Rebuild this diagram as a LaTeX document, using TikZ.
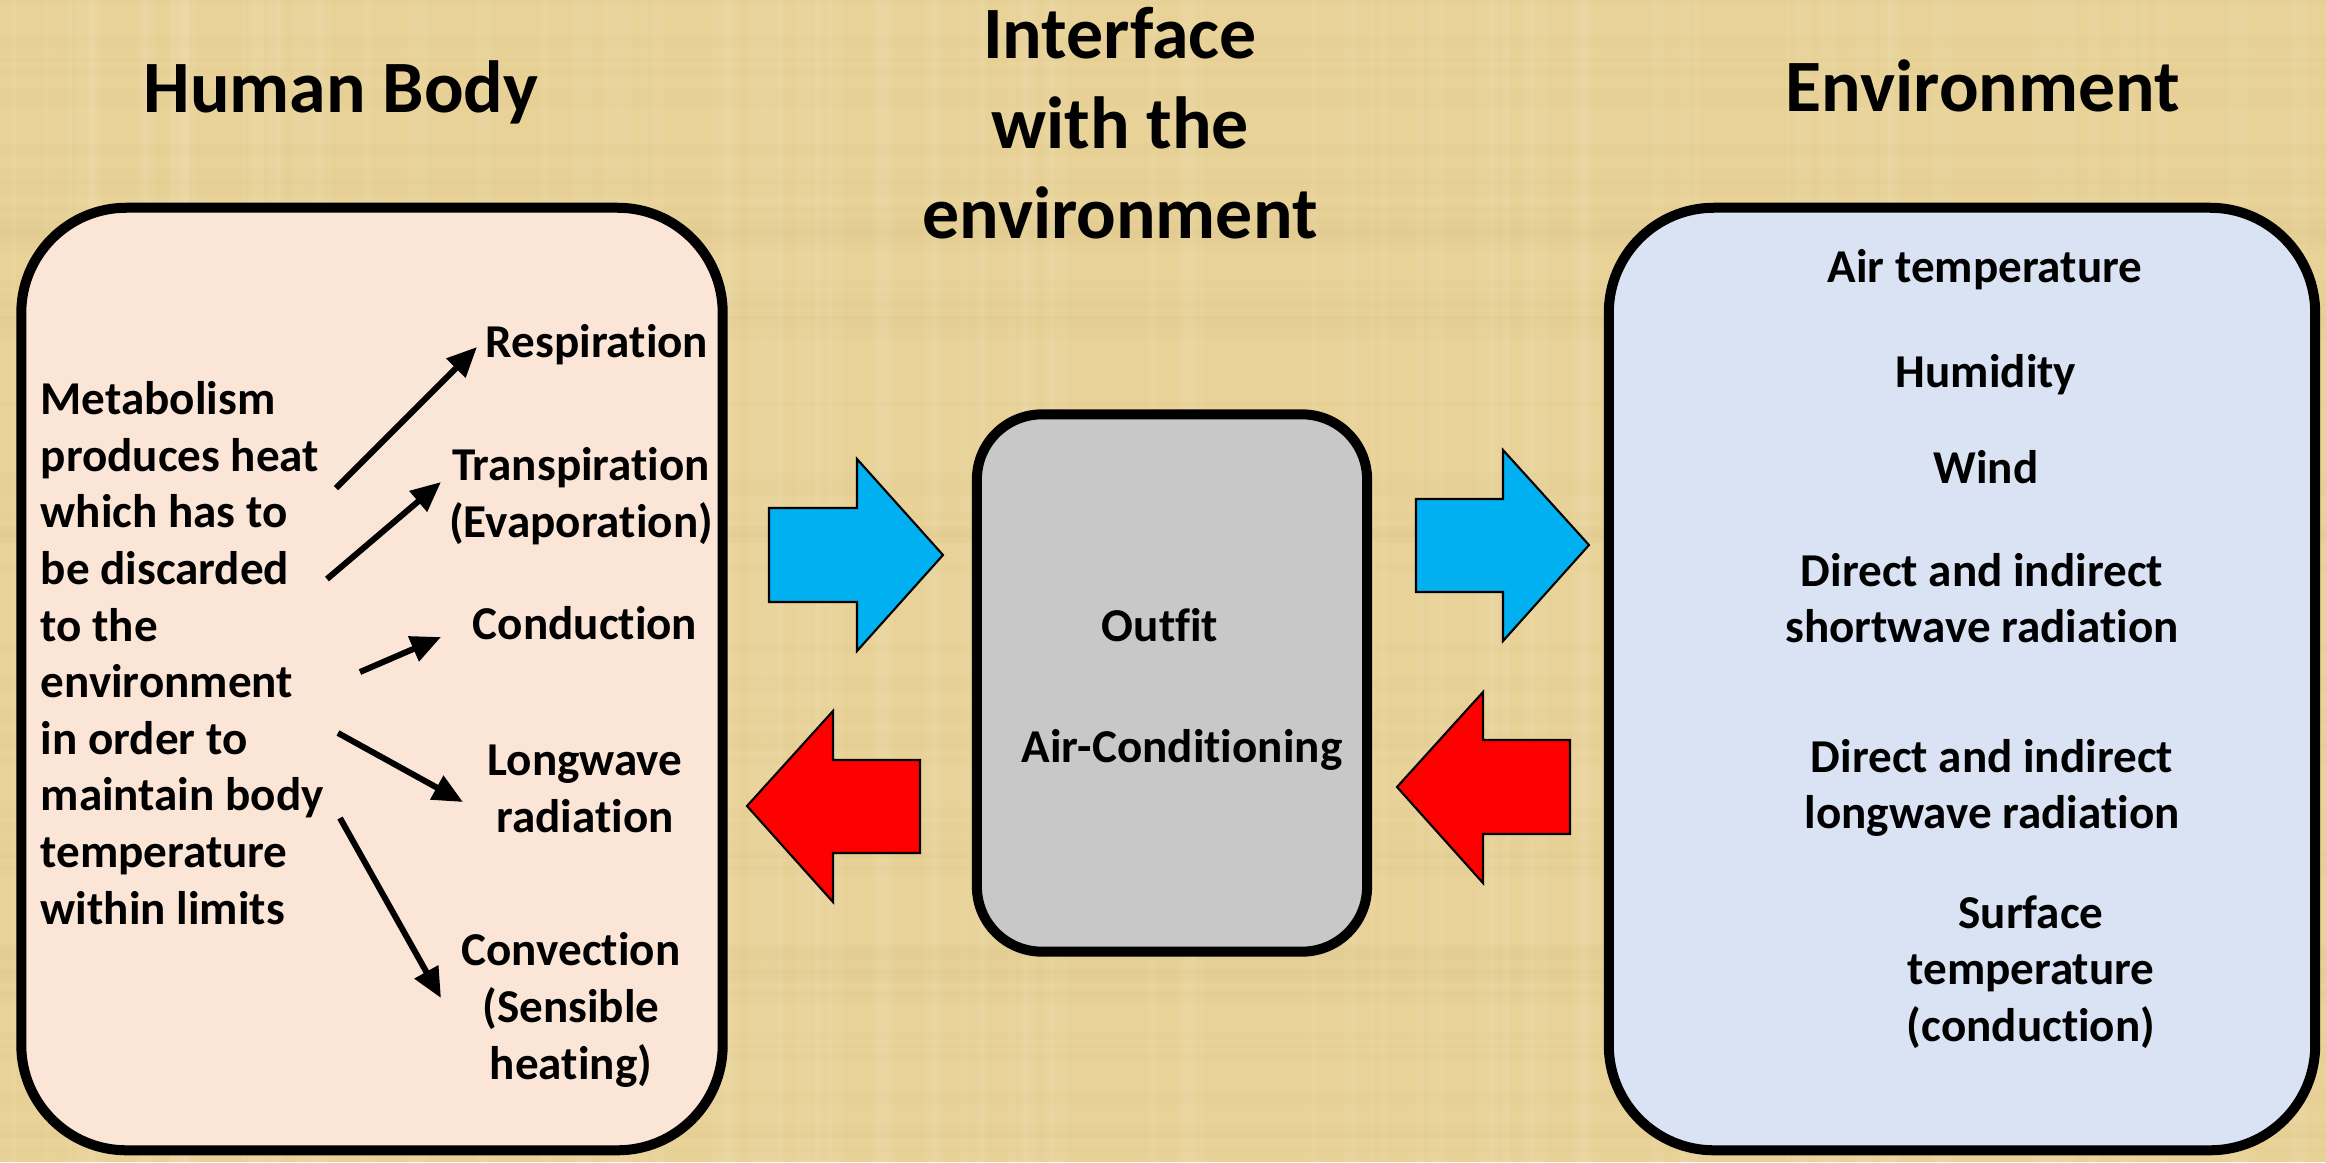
\documentclass[tikz,border=0pt]{standalone}
\usepackage{fontspec}
\setmainfont{Carlito}[Ligatures=NoCommon]
\usetikzlibrary{arrows.meta}

\definecolor{papyrus}{RGB}{232,210,152}
\definecolor{papyrusdark}{RGB}{196,168,104}
\definecolor{skin}{RGB}{251,229,214}
\definecolor{sky}{RGB}{218,227,243}
\definecolor{suit}{RGB}{200,200,200}
\definecolor{coolflow}{RGB}{0,176,240}
\definecolor{hotflow}{RGB}{255,0,0}

\begin{document}
\begin{tikzpicture}[
		x=0.01cm, y=-0.01cm,
		>={Triangle[length=0.3cm,width=0.26cm]},
		font=\bfseries\fontsize{13.4pt}{16.1pt}\selectfont,
		zonebox/.style={draw,line width=0.1cm,rounded corners=1.05cm},
		headline/.style={align=center,font=\bfseries\fontsize{21pt}{25.6pt}\selectfont},
		factor/.style={align=center,inner sep=0pt},
		loss/.style={->,line width=0.06cm},
		heatin/.style={draw=black,line width=0.6pt,fill=coolflow},
		heatout/.style={draw=black,line width=0.6pt,fill=hotflow}
	]

		% Background
		\useasboundingbox (0,0) rectangle (2326,1162);
		\fill[papyrus] (0,0) rectangle (2326,1162);
		\pgfmathsetseed{7}
		\foreach \i in {1,...,90} {
			\pgfmathsetmacro{\xa}{rnd*2326}
			\pgfmathsetmacro{\wa}{3+rnd*18}
			\fill[white,opacity=0.05] (\xa,0) rectangle ++(\wa,1162);
		}
		\foreach \i in {1,...,60} {
			\pgfmathsetmacro{\ya}{rnd*1162}
			\pgfmathsetmacro{\ha}{3+rnd*14}
			\fill[papyrusdark,opacity=0.04] (0,\ya) rectangle ++(2326,\ha);
		}

		% Headlines
		\node[headline] (bodytitle) at (341,92) {Human Body};
		\node[headline] (ifacetitle) at (1120,123) {Interface\\with the\\environment};
		\node[headline] (envtitle) at (1983,86) {Environment};

		% Boxes
		\node[zonebox,fill=skin,minimum width=7.01cm,minimum height=9.42cm] (body) at (372,679) {};
		\node[zonebox,fill=suit,rounded corners=0.65cm,minimum width=3.9cm,minimum height=5.37cm] (iface) at (1172,683) {};
		\node[zonebox,fill=sky,minimum width=7.06cm,minimum height=9.42cm] (env) at (1962,679) {};

		% Human body
		\node[align=left,anchor=west,inner sep=0pt] (metab) at (40,653)
			{Metabolism\\produces heat\\which has to\\be discarded\\to the\\environment\\in order to\\maintain body\\temperature\\within limits};
		\node[factor] (resp) at (597,345) {Respiration};
		\node[factor] (transp) at (581,496) {Transpiration\\(Evaporation)};
		\node[factor] (cond) at (585,623) {Conduction};
		\node[factor] (lwrad) at (585,789) {Longwave\\radiation};
		\node[factor] (conv) at (571,1010) {Convection\\(Sensible\\heating)};

		\coordinate (t1) at (336,488);  \coordinate (h1) at (477,347);
		\coordinate (t2) at (327,579);  \coordinate (h2) at (441,482);
		\coordinate (t3) at (360,672);  \coordinate (h3) at (441,637);
		\coordinate (t4) at (338,733);  \coordinate (h4) at (463,802);
		\coordinate (t5) at (340,818);  \coordinate (h5) at (441,998);
		\foreach \k in {1,...,5}
			\draw[loss] (t\k) -- (h\k);

		% Interface
		\node[factor] (outfit) at (1160,625) {Outfit};
		\node[factor] (aircon) at (1182,750) {Air-Conditioning};

		% Environment
		\node[factor] (airtemp) at (1985,270) {Air temperature};
		\node[factor] (humid) at (1986,375) {Humidity};
		\node[factor] (wind) at (1986,467) {Wind};
		\node[factor] (swrad) at (1982,598) {Direct and indirect\\shortwave radiation};
		\node[factor] (lwenv) at (1992,788) {Direct and indirect\\longwave radiation};
		\node[factor] (surf) at (2031,972) {Surface\\temperature\\(conduction)};

		% Heat flows
		\draw[heatin] (769,508) -- (857,508) -- (857,459) -- (943,555) -- (857,651) -- (857,602) -- (769,602) -- cycle;
		\draw[heatin] (1416,499) -- (1503,499) -- (1503,450) -- (1589,545) -- (1503,641) -- (1503,592) -- (1416,592) -- cycle;
		\draw[heatout] (920,760) -- (833,760) -- (833,711) -- (747,806) -- (833,902) -- (833,853) -- (920,853) -- cycle;
		\draw[heatout] (1570,740) -- (1483,740) -- (1483,692) -- (1397,787) -- (1483,883) -- (1483,834) -- (1570,834) -- cycle;
	\end{tikzpicture}
\end{document}
